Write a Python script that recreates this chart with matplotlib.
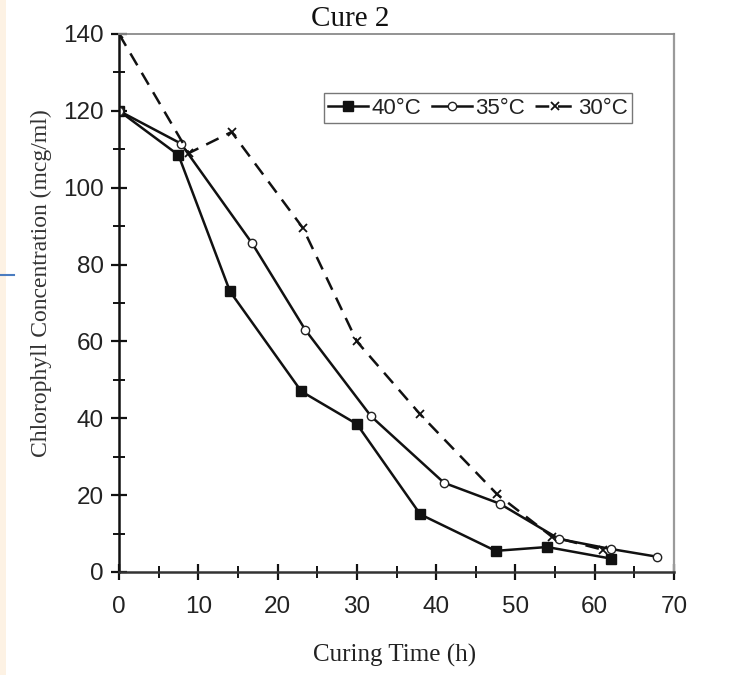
import matplotlib
matplotlib.use("Agg")
import matplotlib.pyplot as plt
from matplotlib.patches import Rectangle
from matplotlib.lines import Line2D

# Chlorophyll concentration during curing
hours_40 = [0, 7.5, 14, 23, 30, 38, 47.5, 54, 62]
conc_40 = [120, 108.5, 73, 47, 38.5, 15, 5.5, 6.5, 3.5]

hours_35 = [0, 7.8, 16.8, 23.5, 31.8, 41, 48, 55.5, 62, 67.8]
conc_35 = [120, 111.5, 85.5, 63, 40.5, 23.2, 17.8, 8.6, 6, 4]

hours_30 = [0, 8.8, 14.2, 23.2, 30, 38, 47.7, 54.6, 61]
conc_30 = [140, 109, 114.5, 89.5, 60, 41, 20.2, 9.2, 5.8]

series_labels = ["40°C", "35°C", "30°C"]
x_ticks = [0, 10, 20, 30, 40, 50, 60, 70]
y_ticks = [0, 20, 40, 60, 80, 100, 120, 140]

serif = ["Liberation Serif", "DejaVu Serif"]
sans = ["Liberation Sans", "DejaVu Sans"]

fig = plt.figure(figsize=(7.5, 6.75), dpi=100)
ax = fig.add_axes([119 / 750, 1 - 572 / 675, 555 / 750, 538 / 675])

# slide background strip and stray line at the left edge
fig.patches.append(Rectangle((0, 0), 6 / 750, 1, transform=fig.transFigure,
                             facecolor="#fdf2e4", edgecolor="none"))
fig.add_artist(Line2D([0, 14 / 750], [1 - 275 / 675, 1 - 275 / 675],
                      transform=fig.transFigure, color="#4a7cc0", lw=1.5))

ax.plot(hours_40, conc_40, color="#111111", lw=1.8, marker="s", ms=6.5,
        mfc="#111111", mec="#111111", label=series_labels[0])
ax.plot(hours_35, conc_35, color="#111111", lw=1.8, marker="o", ms=6,
        mfc="white", mec="#222222", mew=1, label=series_labels[1])
ax.plot(hours_30, conc_30, color="#111111", lw=1.8, dashes=(5.5, 3.5),
        marker="x", ms=6, mec="#111111", mew=1.3, label=series_labels[2])

ax.set_xlim(0, 70)
ax.set_ylim(0, 140)
ax.set_xticks(x_ticks)
ax.set_yticks(y_ticks)
ax.set_xticks(range(5, 70, 10), minor=True)
ax.set_yticks(range(10, 140, 20), minor=True)
ax.tick_params(which="major", direction="inout", length=12, width=1.6,
               color="#111111", labelsize=17.5, pad=5)
ax.tick_params(which="minor", direction="inout", length=9, width=1.4,
               color="#111111")
ax.tick_params(axis="x", which="major", pad=11)
for lab in ax.get_xticklabels() + ax.get_yticklabels():
    lab.set_fontfamily(sans)
    lab.set_color("#222222")

ax.spines["left"].set_color("#111111")
ax.spines["left"].set_linewidth(1.8)
ax.spines["bottom"].set_color("#333333")
ax.spines["bottom"].set_linewidth(1.8)
ax.spines["top"].set_color("#8a8a8a")
ax.spines["top"].set_linewidth(1.3)
ax.spines["right"].set_color("#9a9a9a")
ax.spines["right"].set_linewidth(1.6)

leg = ax.legend(loc="center", bbox_to_anchor=(0.647, 0.862), ncol=3,
                prop={"family": sans, "size": 16}, frameon=True, fancybox=False,
                handlelength=1.8, handletextpad=0.15, columnspacing=0.45,
                borderpad=0.2, borderaxespad=0)
leg.get_frame().set_edgecolor("#555555")
leg.get_frame().set_linewidth(1.0)
for t in leg.get_texts():
    t.set_color("#222222")

fig.text(350 / 750, 1 - 19 / 675, "Cure 2", family=serif, fontsize=21,
         ha="center", va="center", color="#111111")
fig.text(395 / 750, 1 - 655 / 675, "Curing Time (h)", family=serif,
         fontsize=18, ha="center", va="center", color="#222222")
fig.text(41 / 750, 1 - 283 / 675, "Chlorophyll Concentration (mcg/ml)",
         family=serif, fontsize=17, rotation=90, ha="center", va="center",
         color="#333333")

fig.savefig("out.png", dpi=100)
